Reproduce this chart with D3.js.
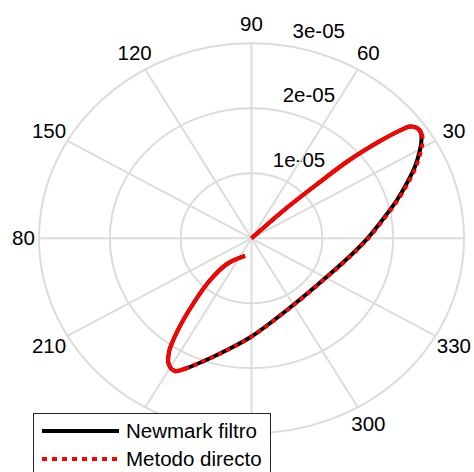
<!DOCTYPE html>
<html>
<head>
<meta charset="utf-8">
<script src="https://cdn.jsdelivr.net/npm/d3@7"></script>
<style>
  body { margin: 0; background: #fff; }
  text { font-family: "Liberation Sans", Arial, sans-serif; font-size: 20.5px; fill: #000; }
</style>
</head>
<body>
<div id="polar"></div>
<script>
// Polar chart set up

var svgWidth = 474;
var svgHeight = 472;

// centre and half-axes of the (stretched) polar axes
var cx = 251.5, cy = 238.3;
var rx = 212.5, ry = 195;

// angle ticks (deg) and their labels
var angleTicks = [0, 30, 60, 90, 120, 150, 180, 210, 240, 270, 300, 330];
var angleLabels = ["0", "30", "60", "90", "120", "150", "180", "210", "240", "270", "300", "330"];

// radial ticks (units of 1e-05) and their labels
var ringTicks = [1, 2, 3];
var ringLabels = ["1e-05", "2e-05", "3e-05"];

// trajectory, angle in degrees
var theta = [43, 43.4, 42.0, 41.1, 39.5, 38.35, 37.55, 36.0, 34.1, 32.35, 29.73, 25.57, 21.18, 16.0,
  9.28, 0, 348.19, 330.17, 298.77, 270, 258.62, 250.44, 245.47, 242.12, 239.14, 236.34, 233.67,
  230.75, 227.79, 228.82, 251.37];

// radius (units of 1e-05)
var rNewmark = [0, 0.612, 1.226, 1.809, 2.352, 2.673, 2.822, 2.888, 2.890, 2.841, 2.739, 2.559, 2.354,
  2.137, 1.888, 1.638, 1.406, 1.212, 1.188, 1.511, 1.753, 2.003, 2.193, 2.310, 2.271, 2.102, 1.751,
  1.305, 0.872, 0.525, 0.287];

var rDirecto = [0, 0.612, 1.226, 1.809, 2.352, 2.673, 2.822, 2.888, 2.895, 2.860, 2.760, 2.578, 2.372,
  2.152, 1.901, 1.648, 1.414, 1.218, 1.192, 1.513, 1.755, 2.004, 2.194, 2.310, 2.271, 2.102, 1.751,
  1.305, 0.872, 0.525, 0.287];

var seriesNames = ["Newmark filtro", "Metodo directo"];

var svg = d3.select("#polar")
  .append("svg")
  .attr("width", svgWidth)
  .attr("height", svgHeight);

// scales: x and y in data units
var xScale = d3.scaleLinear().domain([-3, 3]).range([cx - rx, cx + rx]);
var yScale = d3.scaleLinear().domain([-3, 3]).range([cy + ry, cy - ry]);

var rad = Math.PI / 180;
function px(r, a) { return xScale(r * Math.cos(a * rad)); }
function py(r, a) { return yScale(r * Math.sin(a * rad)); }

var gridColor = "#dcdcdc";

// rings
svg.append("g").selectAll("ellipse")
  .data(ringTicks)
  .enter()
  .append("ellipse")
  .attr("cx", xScale(0))
  .attr("cy", yScale(0))
  .attr("rx", d => xScale(d) - xScale(0))
  .attr("ry", d => yScale(0) - yScale(d))
  .attr("fill", "none")
  .attr("stroke", gridColor)
  .attr("stroke-width", 2);

// ring labels, at 82 deg like matlab polar
svg.append("g").selectAll("text")
  .data(ringTicks)
  .enter()
  .append("text")
  .attr("x", d => px(d + 0.05, 82) + 11)
  .attr("y", d => py(d + 0.05, 82) - 4)
  .text((d, i) => ringLabels[i]);

// spokes (drawn over the ring labels)
svg.append("g").selectAll("line")
  .data(angleTicks.slice(0, 6))
  .enter()
  .append("line")
  .attr("x1", d => px(3, d))
  .attr("y1", d => py(3, d))
  .attr("x2", d => px(3, d + 180))
  .attr("y2", d => py(3, d + 180))
  .attr("stroke", gridColor)
  .attr("stroke-width", 2);

// figure is cropped a little on the left and right
svg.append("clipPath").attr("id", "crop")
  .append("rect").attr("x", 11).attr("y", 0).attr("width", svgWidth - 12).attr("height", svgHeight);

svg.append("g").attr("clip-path", "url(#crop)")
  .selectAll("text")
  .data(angleTicks)
  .enter()
  .append("text")
  .attr("x", d => px(3.3, d))
  .attr("y", d => py(3.3, d))
  .attr("dy", "0.35em")
  .style("text-anchor", "middle")
  .text((d, i) => angleLabels[i]);

// lines
var lineGen = d3.line()
  .x(d => px(d.r, d.a))
  .y(d => py(d.r, d.a))
  .curve(d3.curveCatmullRom);

var newmarkData = theta.map((a, i) => ({ a: a, r: rNewmark[i] }));
var directoData = theta.map((a, i) => ({ a: a, r: rDirecto[i] }));

svg.append("path")
  .attr("d", lineGen(newmarkData))
  .attr("fill", "none")
  .attr("stroke", "#000")
  .attr("stroke-width", 4);

var redPath = svg.append("path")
  .attr("d", lineGen(directoData))
  .attr("fill", "none")
  .attr("stroke", "#ff0000")
  .attr("stroke-width", 4);

// the dots only show on the lower right branch (tip to bottom turn), elsewhere red covers black
function lengthTo(k) {
  var tmp = svg.append("path").attr("d", lineGen(directoData.slice(0, k + 1)));
  var L = tmp.node().getTotalLength();
  tmp.remove();
  return L;
}
var total = redPath.node().getTotalLength();
var L1 = lengthTo(9), L2 = lengthTo(22);
var dashes = [L1];
var pos = L1;
while (pos + 9 < L2) {
  dashes.push(4.5, 4.5);
  pos += 9;
}
dashes.push(4.5, total - pos);
redPath.attr("stroke-dasharray", dashes.join(","));

// legend
var legend = svg.append("g");
legend.append("rect")
  .attr("x", 33.5)
  .attr("y", 413.5)
  .attr("width", 237)
  .attr("height", 80)
  .attr("fill", "#fff")
  .attr("stroke", "#262626")
  .attr("stroke-width", 1);

var legendStyles = [{ color: "#000", dash: null }, { color: "#ff0000", dash: "5,5" }];

seriesNames.forEach(function(name, i) {
  var y = 431 + i * 28;
  legend.append("line")
    .attr("x1", 42).attr("x2", 119)
    .attr("y1", y).attr("y2", y)
    .attr("stroke", legendStyles[i].color)
    .attr("stroke-width", 4)
    .attr("stroke-dasharray", legendStyles[i].dash);
  legend.append("text")
    .attr("x", 126)
    .attr("y", y)
    .attr("dy", "0.35em")
    .text(name);
});
</script>
</body>
</html>
